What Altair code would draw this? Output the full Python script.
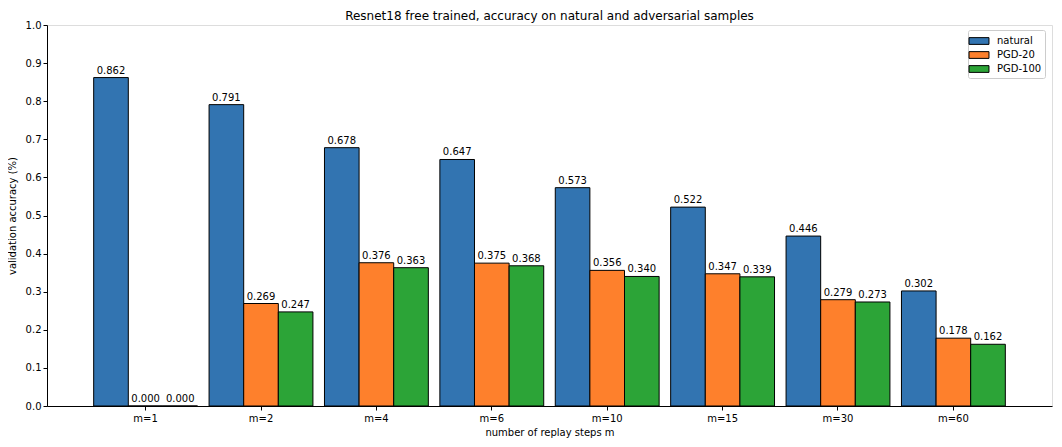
import altair as alt
import pandas as pd

categories = ["m=1", "m=2", "m=4", "m=6", "m=10", "m=15", "m=30", "m=60"]
series = ["natural", "PGD-20", "PGD-100"]
natural = [0.862, 0.791, 0.678, 0.647, 0.573, 0.522, 0.446, 0.302]
pgd20 = [0.000, 0.269, 0.376, 0.375, 0.356, 0.347, 0.279, 0.178]
pgd100 = [0.000, 0.247, 0.363, 0.368, 0.340, 0.339, 0.273, 0.162]
colors = ["#3274B1", "#FE802C", "#2CA437"]
y_ticks = [round(i * 0.1, 1) for i in range(11)]

rows = []
for name, vals in zip(series, [natural, pgd20, pgd100]):
    for c, v in zip(categories, vals):
        rows.append({"cat": c, "series": name, "value": v})
df = pd.DataFrame(rows)

FONT = "DejaVu Sans"

x_enc = alt.X(
    "cat:N", sort=categories, title="number of replay steps m",
    scale=alt.Scale(paddingInner=0.1, paddingOuter=0.4045),
    axis=alt.Axis(labelAngle=0, tickSize=4, labelPadding=3, titlePadding=4,
                  domainColor="black", tickColor="black", labelColor="black",
                  titleColor="black", labelFontSize=10, titleFontSize=10,
                  titleFontWeight="normal", labelFont=FONT, titleFont=FONT),
)
xoff_enc = alt.XOffset("series:N", sort=series,
                       scale=alt.Scale(paddingInner=0, paddingOuter=0))
y_enc = alt.Y(
    "value:Q", title="validation accuracy (%)",
    scale=alt.Scale(domain=[0, 1], nice=False),
    axis=alt.Axis(values=y_ticks, format=".1f", tickSize=4, labelPadding=2,
                  titlePadding=8, grid=False, domainColor="black",
                  labelOverlap=False,
                  tickColor="black", labelColor="black", titleColor="black",
                  labelFontSize=10, titleFontSize=10, titleFontWeight="normal",
                  labelFont=FONT, titleFont=FONT),
)

bars = alt.Chart(df).mark_bar(stroke="black", strokeWidth=1, opacity=1).encode(
    x=x_enc,
    xOffset=xoff_enc,
    y=y_enc,
    color=alt.Color(
        "series:N", sort=series,
        scale=alt.Scale(domain=series, range=colors),
        legend=alt.Legend(
            title=None, orient="none", legendX=921, legendY=5,
            symbolType="M-1.33,-0.45L1.33,-0.45L1.33,0.45L-1.33,0.45Z",
            symbolSize=225,
            symbolStrokeColor="black", symbolStrokeWidth=1,
            labelFont=FONT, labelFontSize=10, labelColor="black",
            fillColor="white", strokeColor="#cccccc", padding=3,
            cornerRadius=2, rowPadding=0, labelOffset=10,
        ),
    ),
)

texts = alt.Chart(df).mark_text(
    baseline="bottom", dy=-2, fontSize=10, font=FONT, color="black"
).encode(
    x=x_enc,
    xOffset=xoff_enc,
    y=y_enc,
    text=alt.Text("value:Q", format=".3f"),
)

chart = (
    alt.layer(bars, texts)
    .properties(
        width=1005,
        height=381,
        autosize=alt.AutoSizeParams(type="none"),
        padding={"left": 39, "top": 17, "right": 2, "bottom": 35},
        title=alt.Title(
            "Resnet18 free trained, accuracy on natural and adversarial samples",
            fontSize=12, fontWeight="normal", font=FONT, color="black",
            anchor="middle", offset=5, dy=8,
        ),
    )
    .configure_view(stroke="black", strokeWidth=1)
    .configure(background="white")
)

chart.save("out.html", embed_options={"renderer": "svg", "actions": False})
